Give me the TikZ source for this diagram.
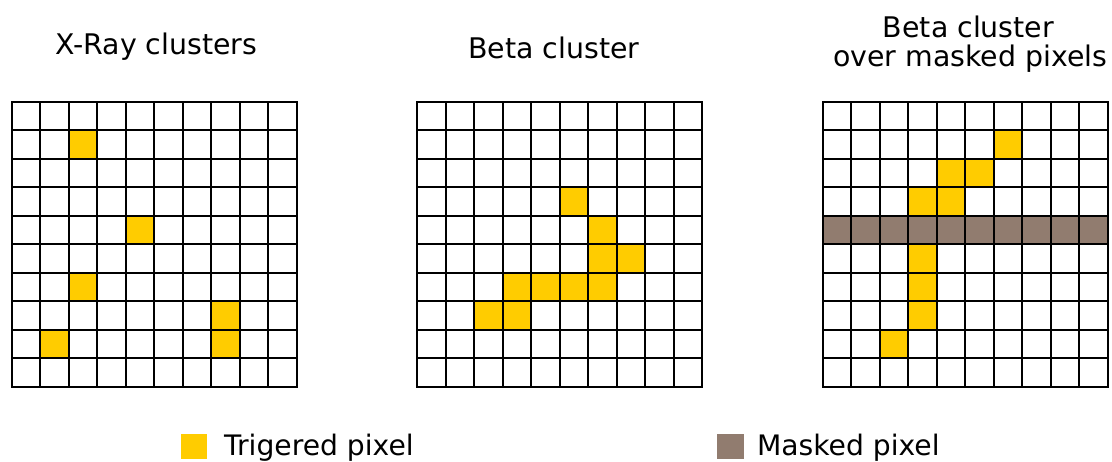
\documentclass[tikz,border=0pt]{standalone}
\usepackage{fontspec}
\setmainfont{DejaVu Sans}
\definecolor{trig}{HTML}{FFCC00}
\definecolor{maskc}{HTML}{917C6F}
\begin{document}
\begin{tikzpicture}[x=1pt,y=-1pt,
  lbl/.style={font=\fontsize{28.4}{28.7}\selectfont, inner sep=0pt, outer sep=0pt, anchor=base},
  legtxt/.style={font=\fontsize{28.2}{28.7}\selectfont, inner sep=0pt, outer sep=0pt, anchor=base west},
  gridline/.style={line width=1.8pt, black, line cap=rect},
  trigcell/.style={fill=trig},
  maskcell/.style={fill=maskc}]
\useasboundingbox (0,0) rectangle (1112,461);
\fill[white] (0,0) rectangle (1112,461);
\def\cs{28.5}
\def\gy{101.7}
% left grid cells
\foreach \c/\r in {2/1,4/4,2/6,7/7,1/8,7/8}
  \fill[trigcell] ({11.7+\c*\cs},{\gy+\r*\cs}) rectangle ++(\cs,\cs);
% middle grid cells
\foreach \c/\r in {5/3,6/4,6/5,7/5,3/6,4/6,5/6,6/6,2/7,3/7}
  \fill[trigcell] ({417.3+\c*\cs},{\gy+\r*\cs}) rectangle ++(\cs,\cs);
% right grid cells
\foreach \c/\r in {6/1,4/2,5/2,3/3,4/3,3/5,3/6,3/7,2/8}
  \fill[trigcell] ({822.7+\c*\cs},{\gy+\r*\cs}) rectangle ++(\cs,\cs);
\fill[maskcell] (822.7,{\gy+4*\cs}) rectangle ++(285,\cs);
% grids
\foreach \ox in {11.7,417.3,822.7}{
  \foreach \i in {0,...,10}{
    \draw[gridline] ({\ox+\i*\cs},\gy) -- ({\ox+\i*\cs},{\gy+285});
    \draw[gridline] (\ox,{\gy+\i*\cs}) -- ({\ox+285},{\gy+\i*\cs});
  }
}
% titles
\node[lbl] (t1) at (156.3,54.3) {X-Ray clusters};
\node[lbl] (t2) at (553.8,58.3) {Beta cluster};
\node[lbl] (t3a) at (968.5,37.3) {Beta cluster};
\node[lbl] (t3b) at (970.3,66) {over masked pixels};
% legend
\fill[trigcell] (181,434) rectangle (207,459);
\node[legtxt] (l1) at (224,455) {Trigered pixel};
\fill[maskcell] (717,434) rectangle (744,459);
\node[legtxt] (l2) at (757,455) {Masked pixel};
\end{tikzpicture}
\end{document}
